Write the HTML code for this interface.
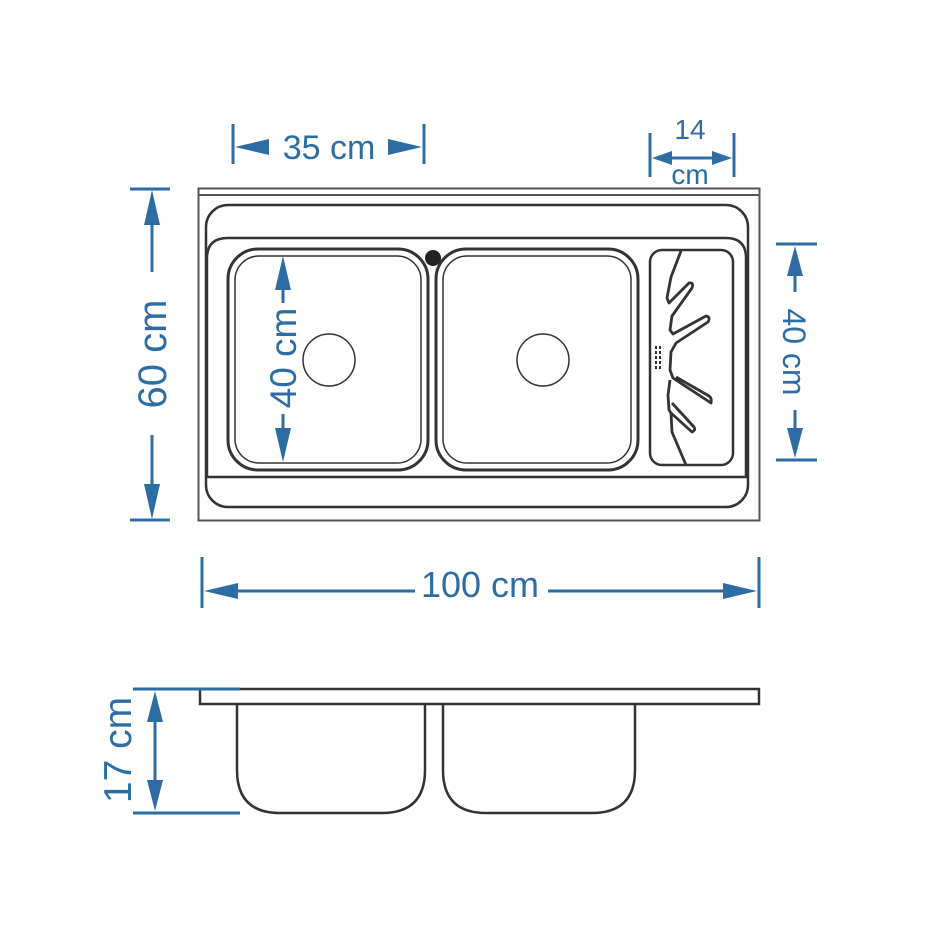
<!DOCTYPE html>
<html><head><meta charset="utf-8"><style>
html,body{margin:0;padding:0;background:#fff;}
svg{display:block;}
text{font-family:"Liberation Sans",Arial,sans-serif;fill:#2e6da4;}
</style></head><body>
<svg width="946" height="946" viewBox="0 0 946 946" xmlns="http://www.w3.org/2000/svg">
<g fill="none" stroke="#333" stroke-width="2.5">
  <rect x="198.5" y="188.5" width="561" height="332" stroke-width="2" stroke="#555"/>
  <line x1="199" y1="195" x2="759" y2="195" stroke-width="2" stroke="#555"/>
  <rect x="206" y="205" width="542" height="302" rx="22"/>
  <path d="M207 477 V258 Q207 238 228 238 H726 Q746 238 746 258 V477 Z"/>
  <rect x="228" y="249" width="200" height="221" rx="30" stroke-width="3"/>
  <rect x="235" y="256" width="186" height="207" rx="24" stroke-width="1.5"/>
  <rect x="436" y="249" width="202" height="221" rx="30" stroke-width="3"/>
  <rect x="443" y="256" width="188" height="207" rx="24" stroke-width="1.5"/>
  <circle cx="329" cy="360" r="26" stroke-width="1.5"/>
  <circle cx="543" cy="360" r="26" stroke-width="1.5"/>
  <rect x="650" y="250" width="83" height="215" rx="12"/>
  <path d="M681 251 L671 277 L667 298 L669 303 L689 283 Q694 282 692 288 L672 316 L670 330 L673 334 L706 316 Q711 317 708 322 L676 343 L671 352 L670 370 L673 378 L711 403 Q712 398 709 396 L676 377 M670 380 L668 395 L669 410 L671 413 L692 432 Q696 430 694 427 L672 403 M671 413 L672 432 L686 465" stroke-width="2.8" stroke-linejoin="round"/>
  <line x1="656" y1="346" x2="656" y2="370" stroke-width="2" stroke-dasharray="3 2"/>
  <line x1="660" y1="346" x2="660" y2="370" stroke-width="2" stroke-dasharray="3 2"/>
  <rect x="200" y="689" width="559" height="15"/>
  <path d="M237 704 V770 Q237 813 280 813 H382 Q425 813 425 770 V704"/>
  <path d="M443 704 V770 Q443 813 486 813 H592 Q635 813 635 770 V704"/>
</g>
<circle cx="433" cy="258" r="8" fill="#222"/>
<g stroke="#2e6da4" stroke-width="3" fill="none">
  <line x1="233" y1="124" x2="233" y2="164"/><line x1="424" y1="124" x2="424" y2="164"/>
  <line x1="650" y1="133" x2="650" y2="177"/><line x1="734" y1="133" x2="734" y2="177"/>
  <line x1="665" y1="158" x2="720" y2="158"/>
  <line x1="130" y1="189" x2="170" y2="189"/><line x1="130" y1="520" x2="170" y2="520"/>
  <line x1="152" y1="205" x2="152" y2="272"/><line x1="152" y1="435" x2="152" y2="505"/>
  <line x1="776" y1="244" x2="817" y2="244"/><line x1="776" y1="460" x2="817" y2="460"/>
  <line x1="795" y1="260" x2="795" y2="292"/><line x1="795" y1="410" x2="795" y2="445"/>
  <line x1="283" y1="270" x2="283" y2="303"/><line x1="283" y1="414" x2="283" y2="450"/>
  <line x1="202" y1="557" x2="202" y2="608"/><line x1="759" y1="557" x2="759" y2="608"/>
  <line x1="215" y1="591" x2="415" y2="591"/><line x1="548" y1="591" x2="745" y2="591"/>
  <line x1="133" y1="689" x2="240" y2="689"/><line x1="133" y1="813" x2="240" y2="813"/>
  <line x1="155" y1="710" x2="155" y2="795"/>
</g>
<g fill="#2e6da4">
  <polygon points="235,147 269,139 269,155"/><polygon points="422,147 388,139 388,155"/>
  <polygon points="652,158 672,151 672,165"/><polygon points="732,158 712,151 712,165"/>
  <polygon points="152,190 144,225 160,225"/><polygon points="152,519 144,484 160,484"/>
  <polygon points="795,246 787,276 803,276"/><polygon points="795,458 787,428 803,428"/>
  <polygon points="283,256 275,290 291,290"/><polygon points="283,462 275,428 291,428"/>
  <polygon points="204,591 238,583 238,599"/><polygon points="757,591 723,583 723,599"/>
  <polygon points="155,691 147,722 163,722"/><polygon points="155,811 147,780 163,780"/>
</g>
<text x="329" y="159" font-size="34" text-anchor="middle">35 cm</text>
<text x="690" y="139" font-size="28" text-anchor="middle">14</text>
<text x="690" y="184" font-size="28" text-anchor="middle">cm</text>
<text x="480" y="597" font-size="36" text-anchor="middle">100 cm</text>
<text transform="translate(166,354) rotate(-90)" font-size="40" text-anchor="middle">60 cm</text>
<text transform="translate(296,358) rotate(-90)" font-size="37" text-anchor="middle">40 cm</text>
<text transform="translate(783,352) rotate(90)" font-size="32" text-anchor="middle">40 cm</text>
<text transform="translate(131,750) rotate(-90)" font-size="39" text-anchor="middle">17 cm</text>
</svg>
</body></html>
